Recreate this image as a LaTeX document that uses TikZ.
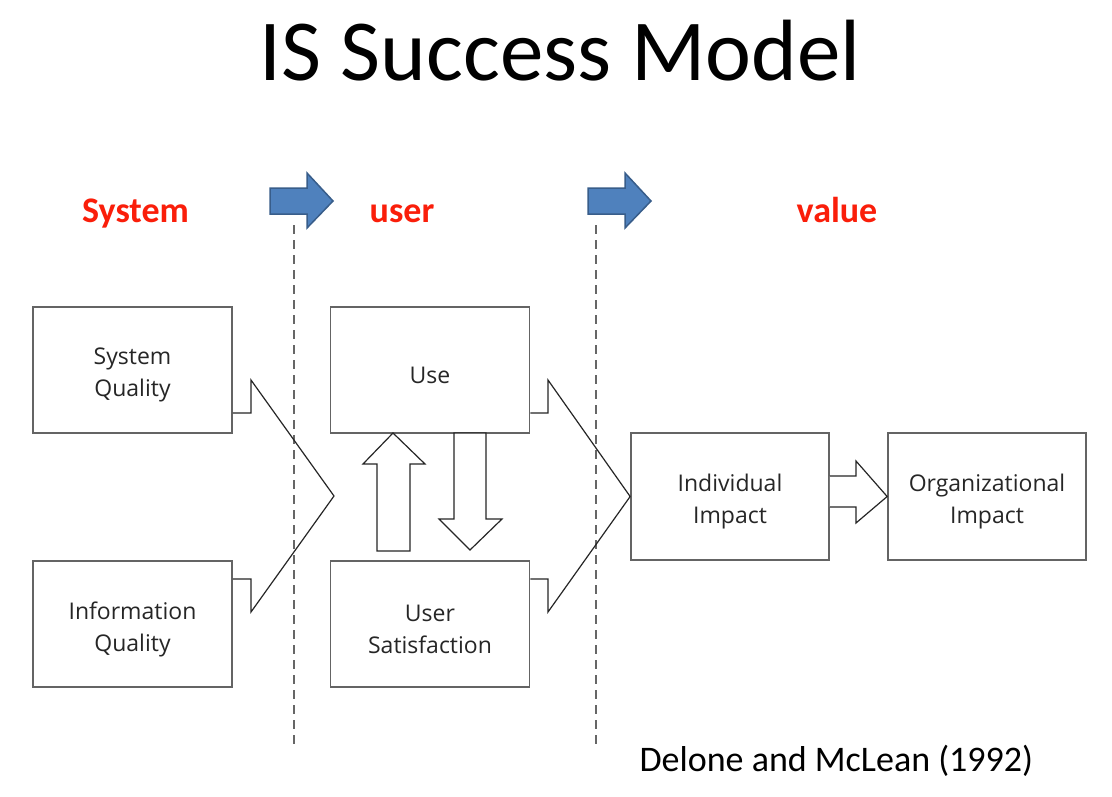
\documentclass[tikz,border=0pt]{standalone}
\usepackage{fontspec}
\setmainfont{Carlito}
\newfontfamily\boxfont{Open Sans}
\definecolor{lblred}{RGB}{250,30,10}
\definecolor{blfill}{RGB}{79,129,189}
\definecolor{blline}{RGB}{56,93,138}
\definecolor{boxline}{RGB}{100,100,100}
\begin{document}
\begin{tikzpicture}[x=1pt,y=-1pt,
  box/.style={draw=boxline,line width=1.7pt,minimum width=199pt,minimum height=126pt,inner sep=0pt},
  boxtext/.style={align=center,inner sep=0pt,text=black!85,font=\boxfont\fontsize{23}{32}\selectfont},
  chev/.style={draw=black!85,line width=1.2pt,line join=miter},
  blk/.style={draw=black!85,line width=1.2pt,fill=white},
  blue/.style={draw=blline,line width=1.5pt,fill=blfill},
  sep/.style={draw=black!60,line width=2.8pt,dash pattern=on 9pt off 6pt},
  lbl/.style={text=lblred,font=\bfseries\fontsize{36}{40}\selectfont,anchor=base}]
\useasboundingbox (0,0) rectangle (1112,796);
\fill[white] (0,0) rectangle (1112,796);
% title
\node[anchor=base,font=\fontsize{87}{90}\selectfont] (title) at (560,80) {IS Success Model};
% labels
\node[lbl] (lsys) at (135.5,222) {System};
\node[lbl] (luser) at (402,222) {user};
\node[lbl] (lval) at (837,222) {value};
% blue arrows
\draw[blue] (270,188) -- (307,188) -- (307,173) -- (333,201) -- (307,228) -- (307,214) -- (270,214) -- cycle;
\draw[blue] (588,188) -- (625,188) -- (625,173) -- (651,201) -- (625,228) -- (625,214) -- (588,214) -- cycle;
% separators
\coordinate (s1t) at (294,225); \coordinate (s1b) at (294,745);
\coordinate (s2t) at (596,225); \coordinate (s2b) at (596,745);
\draw[sep] (s1t) -- (s1b);
\draw[sep] (s2t) -- (s2b);
% boxes
\node[box] (sq) at (132.5,370) {};
\node[box] (iq) at (132.5,624) {};
\node[box] (use) at (430,370) {};
\node[box] (us) at (430,624) {};
\node[box,minimum width=198pt,minimum height=127pt] (ii) at (730,496.5) {};
\node[box,minimum width=198pt,minimum height=127pt] (oi) at (987,496.5) {};
\node[boxtext] (tsq) at ([yshift=-5pt]sq.center) {System\\Quality};
\node[boxtext] (tiq) at ([yshift=-5pt]iq.center) {Information\\Quality};
\node[boxtext] (tuse) at ([yshift=-5pt]use.center) {Use};
\node[boxtext] (tus) at ([yshift=-5pt]us.center) {User\\Satisfaction};
\node[boxtext] (tii) at ([yshift=-5pt]ii.center) {Individual\\Impact};
\node[boxtext] (toi) at ([yshift=-5pt]oi.center) {Organizational\\Impact};
% chevrons
\draw[chev] (sq.east |- 0,413) -- (251,413) -- (251,380) -- (334,496) -- (251,612) -- (251,579) -- (iq.east |- 0,579);
\draw[chev] (use.east |- 0,413) -- (548,413) -- (548,380) -- (ii.west) -- (548,612) -- (548,579) -- (us.east |- 0,579);
% up / down block arrows
\draw[blk] (393,433) -- (425,464) -- (410,464) -- (410,551) -- (377,551) -- (377,464) -- (363,464) -- cycle;
\draw[blk] (454,433) -- (486,433) -- (486,519) -- (502,519) -- (470,550) -- (439,519) -- (454,519) -- cycle;
% right block arrow
\draw[blk] (ii.east |- 0,476) -- (856,476) -- (856,461) -- (oi.west) -- (856,523) -- (856,507) -- (ii.east |- 0,507);
% source
\node[anchor=base west,font=\fontsize{36}{40}\selectfont] (src) at (636,771) {Delone and McLean (1992)};
\end{tikzpicture}
\end{document}
